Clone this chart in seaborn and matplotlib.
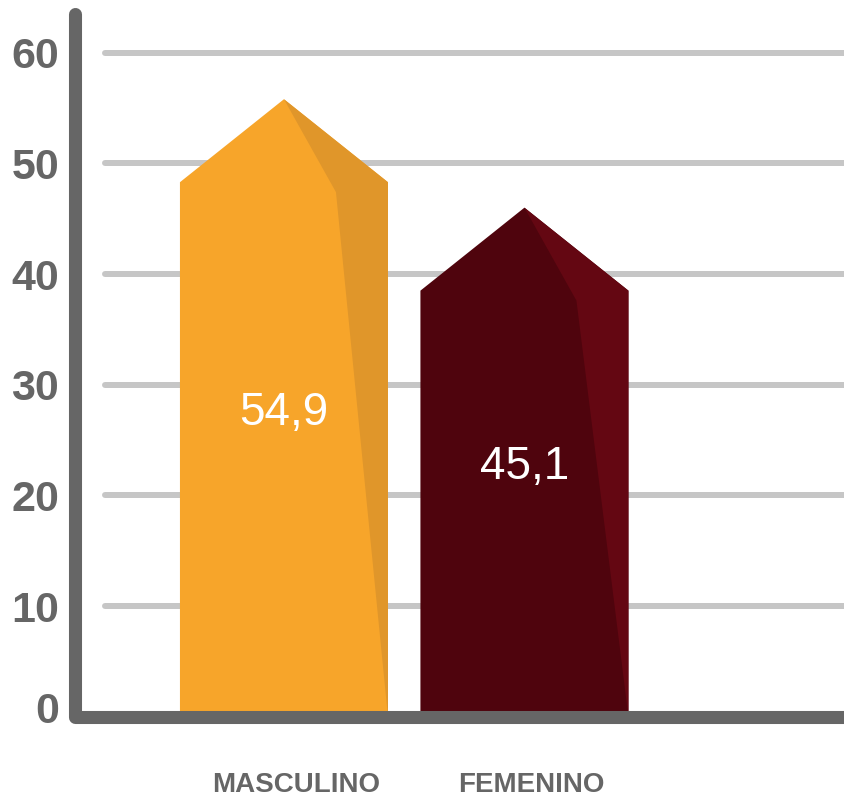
import matplotlib
matplotlib.use("Agg")
import matplotlib.pyplot as plt
from matplotlib.patches import Polygon
from matplotlib.transforms import ScaledTranslation
import seaborn as sns
import pandas as pd

# ---- data ----
categories = ["MASCULINO", "FEMENINO"]
values = [54.9, 45.1]
value_labels = ["54,9", "45,1"]
yticks = [0, 10, 20, 30, 40, 50, 60]

# ---- styles ----
main_colors = ["#F7A52A", "#4F040D"]
shade_colors = ["#E0962A", "#640712"]
axis_color = "#666666"
grid_color = "#C6C6C6"
TIP = 7.5          # height of the pointed top (data units)
PEAK_OFFSET = 0.9  # peak sits slightly above the value
CREASE_X = 0.75
CREASE_DROP = 0.9

sns.set_theme(style="white")
plt.rcParams["font.family"] = ["Liberation Sans", "DejaVu Sans"]

fig = plt.figure(figsize=(8.45, 7.98), dpi=100)
fig.patch.set_facecolor("white")
ax = fig.add_axes([74.5 / 845, (798 - 716.7) / 798, 1 - 74.5 / 845, 702.7 / 798])
ax.set_facecolor("white")

df = pd.DataFrame({"cat": categories, "val": values})
sns.barplot(data=df, x="cat", y="val", hue="cat", palette=main_colors,
            width=0.865, legend=False, ax=ax, saturation=1, zorder=3)

ax.set_ylim(0, 63.5)
ax.set_xlim(-0.871, 2.333)

# gridlines
x_grid_start = -0.744
lc = ax.hlines([t for t in yticks if t > 0], x_grid_start, 2.333,
               colors=grid_color, linewidth=4.3, zorder=1)
lc.set_capstyle("round")

# reshape bars into pointed columns
for i, p in enumerate(ax.patches):
    x0 = p.get_x()
    w = p.get_width()
    h = p.get_height()
    xc = x0 + w / 2
    peak = h + PEAK_OFFSET
    shoulder = peak - TIP
    p.set_visible(False)
    body = Polygon([(x0, 0), (x0, shoulder), (xc, peak), (x0 + w, shoulder), (x0 + w, 0)],
                   closed=True, facecolor=main_colors[i], edgecolor="none", zorder=3)
    ax.add_patch(body)
    shade = Polygon([(xc, peak), (x0 + w, shoulder), (x0 + w, 0),
                     (x0 + CREASE_X * w, shoulder - CREASE_DROP)],
                    closed=True, facecolor=shade_colors[i], edgecolor="none", zorder=4)
    ax.add_patch(shade)
    ax.text(xc, h / 2, value_labels[i], color="white", fontsize=33,
            ha="center", va="center", zorder=6)

# axis lines
for s in ax.spines.values():
    s.set_visible(False)
ax.plot([-0.871, -0.871, 2.4], [63.5, 0, 0], color=axis_color, linewidth=9.4,
        solid_capstyle="round", solid_joinstyle="round", clip_on=False, zorder=5)

ax.set_yticks(yticks)
ax.set_yticklabels([str(t) for t in yticks], fontsize=31, fontweight="bold", color=axis_color)
ax.tick_params(axis="y", length=0, pad=11)
ax.tick_params(axis="x", length=0, pad=40)
ax.set_xticks(range(len(categories)))
ax.set_xticklabels(categories, fontsize=20, fontweight="bold", color=axis_color)
ax.set_xlabel("")
ax.set_ylabel("")
ax.grid(False)

# small label offsets as in the reference
ylabs = ax.get_yticklabels()
ylabs[0].set_transform(ylabs[0].get_transform() + ScaledTranslation(0, 9 / 100, fig.dpi_scale_trans))
for lab, dx in zip(ax.get_xticklabels(), [12, 7]):
    lab.set_transform(lab.get_transform() + ScaledTranslation(dx / 100, 0, fig.dpi_scale_trans))

fig.savefig("out.png", dpi=100, facecolor="white")
